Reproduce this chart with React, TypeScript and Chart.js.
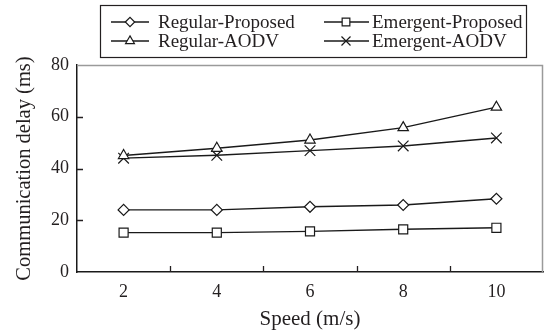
import React, { useEffect, useRef } from 'react';
import { Chart, registerables } from 'chart.js';
import { drawPoint } from 'chart.js/helpers';

Chart.register(...registerables);

const speeds = ['2', '4', '6', '8', '10'];
const seriesNames = ['Regular-Proposed', 'Emergent-Proposed', 'Regular-AODV', 'Emergent-AODV'];
const regularProposed = [24.0, 24.0, 25.2, 25.9, 28.3];
const emergentProposed = [15.2, 15.2, 15.7, 16.5, 17.1];
const regularAODV = [45.0, 47.8, 51.0, 55.8, 63.7];
const emergentAODV = [44.0, 45.1, 46.9, 48.7, 51.8];
const yMin = 0;
const yMax = 80;
const yStep = 20;

const FONT = "'Liberation Serif', 'Times New Roman', serif";
const INK = '#231f20';
const pointStyles = ['rectRot', 'rect', 'triangle', 'crossRot'];
const pointRadii = [5.5, 6.4, 6, 7.5];

const framePlugin = {
  id: 'frame',
  afterLayout(chart: any) {
    const xs = chart.scales.x;
    const target = chart.width - 2;
    const ca = chart.chartArea;
    ca.right = target;
    ca.width = ca.right - ca.left;
    xs.right = target;
    xs.width = xs.right - xs.left;
    xs.configure();
  },
  afterDatasetsDraw(chart: any) {
    const { ctx, chartArea } = chart;
    const { left, right, top, bottom } = chartArea;
    ctx.save();
    ctx.strokeStyle = '#9a9a9a';
    ctx.lineWidth = 1.5;
    ctx.beginPath();
    ctx.moveTo(left, top + 0.5);
    ctx.lineTo(right - 0.5, top + 0.5);
    ctx.lineTo(right - 0.5, bottom);
    ctx.stroke();
    ctx.strokeStyle = INK;
    ctx.lineWidth = 1.3;
    const ys = chart.scales.y;
    ctx.beginPath();
    ys.ticks.forEach((t: any) => {
      if (t.value <= yMin || t.value >= yMax) return;
      const py = Math.round(ys.getPixelForValue(t.value)) + 0.5;
      ctx.moveTo(left, py);
      ctx.lineTo(left + 6, py);
    });
    const xs = chart.scales.x;
    for (let i = 0; i < speeds.length - 1; i++) {
      const px = Math.round((xs.getPixelForValue(i) + xs.getPixelForValue(i + 1)) / 2) + 0.5;
      ctx.moveTo(px, bottom);
      ctx.lineTo(px, bottom - 6);
    }
    ctx.stroke();
    ctx.restore();
  },
  afterDraw(chart: any) {
    const { ctx } = chart;
    ctx.save();
    const bx = 100.5, by = 5.5, bw = 426, bh = 52;
    ctx.strokeStyle = INK;
    ctx.lineWidth = 1.2;
    ctx.strokeRect(bx, by, bw, bh);
    const cols = [{ l0: 111, l1: 149, m: 130, t: 158 }, { l0: 324, l1: 369, m: 346, t: 372 }];
    const rows = [22, 41];
    ctx.font = `19px ${FONT}`;
    ctx.textBaseline = 'middle';
    ctx.textAlign = 'left';
    chart.data.datasets.forEach((ds: any, i: number) => {
      const c = cols[i % 2];
      const y = rows[Math.floor(i / 2)];
      ctx.strokeStyle = '#1a1a1a';
      ctx.lineWidth = 1.3;
      ctx.beginPath();
      ctx.moveTo(c.l0, y);
      ctx.lineTo(c.l1, y);
      ctx.stroke();
      ctx.fillStyle = '#ffffff';
      ctx.strokeStyle = '#1a1a1a';
      ctx.lineWidth = 1.2;
      drawPoint(ctx, { pointStyle: ds.pointStyle, radius: ds.pointRadius * 0.85, rotation: 0, borderWidth: 1.2 }, c.m, y);
      ctx.fillStyle = INK;
      ctx.fillText(ds.label, c.t, y + 1);
    });
    ctx.restore();
  },
};

export default function App() {
  const ref = useRef<HTMLCanvasElement>(null);
  useEffect(() => {
    const values = [regularProposed, emergentProposed, regularAODV, emergentAODV];
    const chart = new Chart(ref.current as HTMLCanvasElement, {
      type: 'line',
      data: {
        labels: speeds,
        datasets: values.map((v, i) => ({
          label: seriesNames[i],
          data: v,
          borderColor: '#1a1a1a',
          borderWidth: 1.4,
          backgroundColor: '#ffffff',
          pointStyle: pointStyles[i] as any,
          pointRadius: pointRadii[i],
          pointBorderColor: '#1a1a1a',
          pointBackgroundColor: '#ffffff',
          pointBorderWidth: 1.2,
          tension: 0,
          fill: false,
        })),
      },
      options: {
        responsive: false,
        animation: false,
        devicePixelRatio: 1,
        layout: { padding: { top: 65, right: 2, left: 0, bottom: 0 } },
        plugins: { legend: { display: false }, tooltip: { enabled: false } },
        scales: {
          x: {
            type: 'category',
            offset: true,
            grid: { display: false },
            border: { display: true, color: '#1a1a1a', width: 1.5 },
            ticks: { font: { family: FONT, size: 18 }, color: INK, padding: 1, maxRotation: 0, autoSkip: false },
            title: { display: true, text: 'Speed (m/s)', font: { family: FONT, size: 21 }, color: INK, padding: { top: 0, bottom: 2 } },
            afterFit: (s: any) => { s.height = 62; s.paddingLeft = 0; s.paddingRight = 0; },
          },
          y: {
            min: yMin,
            max: yMax,
            grid: { display: false },
            border: { display: true, color: '#1a1a1a', width: 1.5 },
            ticks: { stepSize: yStep, font: { family: FONT, size: 18 }, color: INK, padding: 0 },
            title: { display: true, text: 'Communication delay (ms)', font: { family: FONT, size: 20.5 }, color: INK, padding: { top: 12, bottom: 0 } },
            afterFit: (s: any) => { s.width = 77; s.paddingTop = 0; s.paddingBottom = 0; },
          },
        },
      },
      plugins: [framePlugin],
    });
    return () => chart.destroy();
  }, []);
  return (
    <div style={{ position: 'fixed', left: 0, top: 0, width: 545, height: 334, background: '#fff' }}>
      <canvas ref={ref} width={545} height={334} style={{ width: 545, height: 334, display: 'block' }} />
    </div>
  );
}
